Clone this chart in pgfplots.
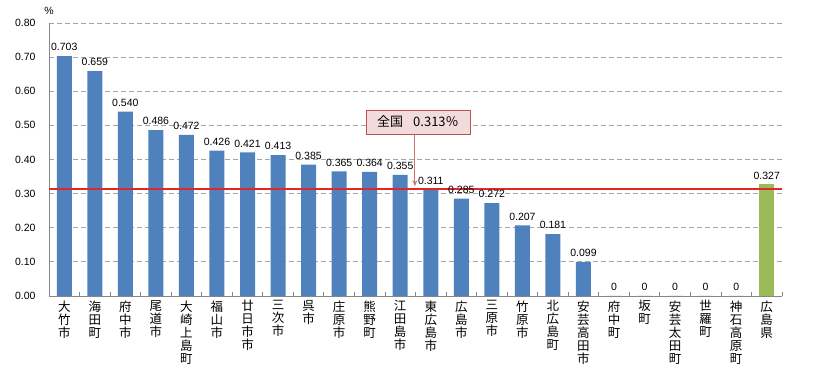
\documentclass[border=0pt]{standalone}
\usepackage{pgfplots}
\pgfplotsset{compat=1.18}
\usepackage{pgfplotstable}
\usetikzlibrary{arrows.meta}
\usepackage{fontspec}
\setmainfont{Liberation Sans}
\newfontfamily\cjk{Noto Sans CJK JP}
\definecolor{barblue}{HTML}{4F81BD}
\definecolor{bargreen}{HTML}{9BBB59}
\definecolor{refred}{RGB}{225,40,40}
\definecolor{boxfill}{HTML}{F2DCDB}
\definecolor{boxedge}{HTML}{C0504D}
\definecolor{axgray}{HTML}{868686}
\definecolor{gridgray}{HTML}{A6A6A6}

\pgfplotstableread{
x y lab
0 0.703 0.703
1 0.659 0.659
2 0.540 0.540
3 0.486 0.486
4 0.472 0.472
5 0.426 0.426
6 0.421 0.421
7 0.413 0.413
8 0.385 0.385
9 0.365 0.365
10 0.364 0.364
11 0.355 0.355
12 0.311 0.311
13 0.285 0.285
14 0.272 0.272
15 0.207 0.207
16 0.181 0.181
17 0.099 0.099
18 0 0
19 0 0
20 0 0
21 0 0
22 0 0
}\citydata

\pgfplotstableread{
x y lab
23 0.327 0.327
}\prefdata

\begin{document}
\begin{tikzpicture}
\path[use as bounding box] (0,0) rectangle (813pt,379pt);
\begin{axis}[
  at={(49pt,83pt)}, anchor=south west,
  scale only axis, width=733pt, height=273pt,
  xmin=-0.5, xmax=23.5, ymin=0, ymax=0.8,
  axis x line*=bottom, axis y line*=left,
  axis line style={axgray, line width=0.8pt, -},
  xtick={0,...,23},
  xticklabels={{大\\竹\\市},{海\\田\\町},{府\\中\\市},{尾\\道\\市},{大\\崎\\上\\島\\町},{福\\山\\市},{廿\\日\\市\\市},{三\\次\\市},{呉\\市},{庄\\原\\市},{熊\\野\\町},{江\\田\\島\\市},{東\\広\\島\\市},{広\\島\\市},{三\\原\\市},{竹\\原\\市},{北\\広\\島\\町},{安\\芸\\高\\田\\市},{府\\中\\町},{坂\\町},{安\\芸\\太\\田\\町},{世\\羅\\町},{神\\石\\高\\原\\町},{広\\島\\県}},
  x tick label style={align=center, anchor=north, font=\cjk\fontsize{12.5}{13}\selectfont, yshift=-1pt},
  major x tick style={draw=none},
  minor xtick={-0.5,0.5,...,23.5},
  minor x tick style={axgray, line width=0.8pt},
  minor tick length=4pt,
  ytick={0,0.1,...,0.81},
  ytick style={draw=none},
  y tick label style={font=\fontsize{10.5}{12}\selectfont, xshift=-10pt},
  yticklabel style={/pgf/number format/fixed, /pgf/number format/fixed zerofill, /pgf/number format/precision=2, /pgf/number format/assume math mode=true},
  ymajorgrids, grid style={gridgray, dash pattern=on 5pt off 3pt, line width=0.8pt},
  clip=false,
]
\addplot[ybar, bar width=15pt, fill=barblue, draw=none, bar shift=0pt,
  point meta=explicit symbolic, nodes near coords,
  every node near coord/.append style={font=\fontsize{10.5}{12}\selectfont, black, inner sep=2pt, yshift=3pt}]
  table[x=x, y=y, meta=lab] {\citydata};
\addplot[ybar, bar width=15pt, fill=bargreen, draw=none, bar shift=0pt,
  point meta=explicit symbolic, nodes near coords,
  every node near coord/.append style={font=\fontsize{10.5}{12}\selectfont, black, inner sep=2pt, yshift=3pt}]
  table[x=x, y=y, meta=lab] {\prefdata};
\addplot[draw=refred, mark=none, solid, line width=1.5pt, forget plot] coordinates {(-0.5,0.313) (23.5,0.313)};
\draw[-{Stealth[length=6pt,width=5pt]}, boxedge!80, line width=1pt] (axis cs:11.48,0.475) -- (axis cs:11.48,0.322);
\node[draw=boxedge, fill=boxfill, line width=0.8pt, minimum width=104pt, minimum height=24pt, inner sep=2pt, font=\cjk\fontsize{13}{14}\selectfont] at (axis cs:11.58,0.51) {全国\hspace{10pt}0.313％};
\node[font=\fontsize{10.5}{12}\selectfont, anchor=south] at ([yshift=5pt]rel axis cs:0,1) {\%};
\end{axis}
\end{tikzpicture}
\end{document}
